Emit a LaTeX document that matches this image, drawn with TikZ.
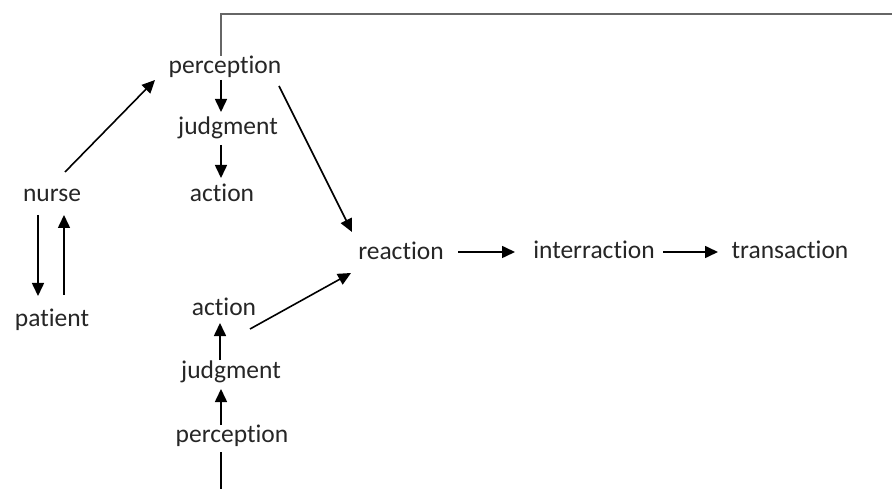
\documentclass[tikz,border=0pt]{standalone}
\usepackage{fontspec}
\setmainfont[Ligatures={NoCommon}]{Carlito}
\usetikzlibrary{arrows.meta}
\begin{document}
\begin{tikzpicture}[x=1pt,y=-1pt,
  lbl/.style={font=\fontsize{25.5}{28}\selectfont, text=black!85, inner sep=0pt, anchor=base},
  arr/.style={-{Triangle[length=13pt,width=12pt]}, line width=1.6pt, black},
  ln/.style={line width=1.6pt, black}]
\useasboundingbox (0,0) rectangle (892,489);
\node[lbl] (pt) at (225,74) {perception};
\node[lbl] (jt) at (228,135) {judgment};
\node[lbl] (at) at (222,202) {action};
\node[lbl] (nurse) at (52,202) {nurse};
\node[lbl] (patient) at (52,326) {patient};
\node[lbl] (reaction) at (401,260) {reaction};
\node[lbl] (inter) at (594,259) {interraction};
\node[lbl] (trans) at (790,259) {transaction};
\node[lbl] (ab) at (224,316) {action};
\node[lbl] (jb) at (231,378) {judgment};
\node[lbl] (pb) at (232,442) {perception};
\coordinate (topR) at (892,14);
\coordinate (botEnd) at (221,489);
\draw[line width=1.3pt, black!60] ([xshift=-4pt,yshift=18pt]pt.base) |- (topR);
\draw[arr] ([xshift=-4pt,yshift=-6pt]pt.base) -- ([xshift=-7pt,yshift=23pt]jt.base);
\draw[arr] ([xshift=-7pt,yshift=-10pt]jt.base) -- ([xshift=-1pt,yshift=24pt]at.base);
\draw[arr] ([xshift=54pt,yshift=-12pt]pt.base) -- ([xshift=-49pt,yshift=28pt]reaction.base);
\draw[arr] ([xshift=13pt,yshift=30pt]nurse.base) -- ([xshift=-70pt,yshift=-6pt]pt.base);
\draw[arr] ([xshift=-14pt,yshift=-13pt]nurse.base) -- ([xshift=-14pt,yshift=30pt]patient.base);
\draw[arr] ([xshift=12pt,yshift=31pt]patient.base) -- ([xshift=12pt,yshift=-13pt]nurse.base);
\draw[arr] ([xshift=26pt,yshift=-13pt]ab.base) -- ([xshift=-50pt,yshift=-13pt]reaction.base);
\draw[arr] ([xshift=-11pt,yshift=18pt]jb.base) -- ([xshift=-4pt,yshift=-7pt]ab.base);
\draw[arr] ([xshift=-11pt,yshift=17pt]pb.base) -- ([xshift=-10pt,yshift=-11pt]jb.base);
\draw[ln] ([xshift=-11pt,yshift=-10pt]pb.base) -- (botEnd);
\draw[arr] ([xshift=57pt,yshift=8pt]reaction.base) -- ([xshift=-79pt,yshift=7pt]inter.base);
\draw[arr] ([xshift=69pt,yshift=7pt]inter.base) -- ([xshift=-72pt,yshift=7pt]trans.base);
\end{tikzpicture}
\end{document}
